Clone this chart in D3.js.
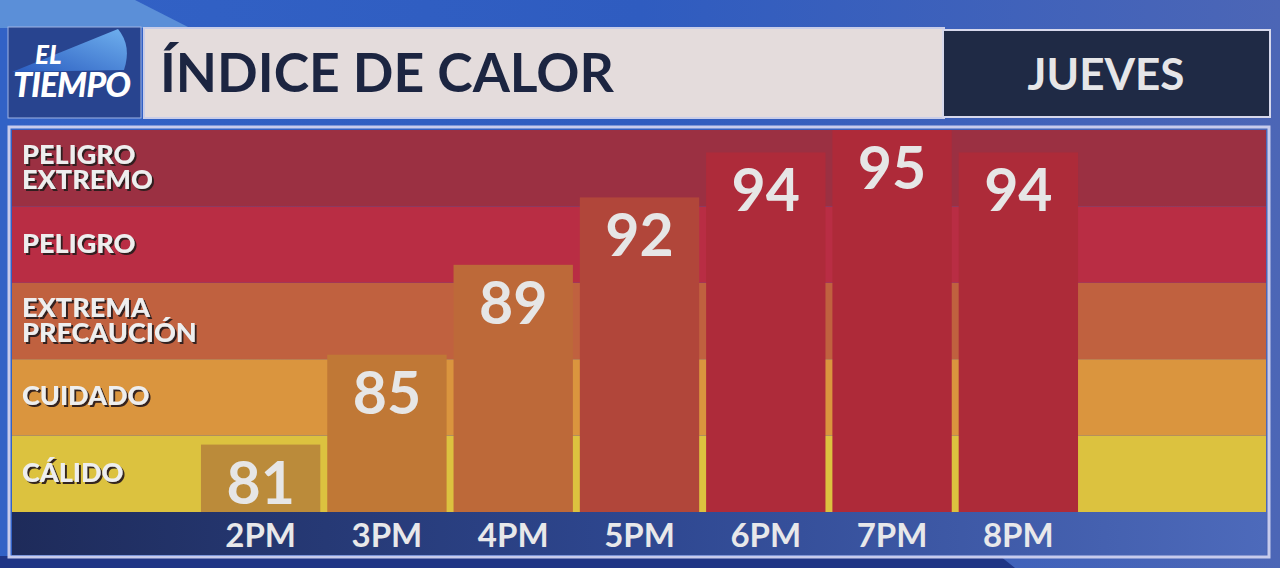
<!DOCTYPE html>
<html>
<head>
<meta charset="utf-8">
<script src="https://cdn.jsdelivr.net/npm/d3@7"></script>
<style>
 html, body { margin: 0; padding: 0; background: #3a64c4; }
 svg { display: block; }
</style>
</head>
<body>
<div id="chart"></div>
<script>
const hours = ["2PM", "3PM", "4PM", "5PM", "6PM", "7PM", "8PM"];
const heatIndex = [81, 85, 89, 92, 94, 95, 94];
const barColors = ["#bb8b3a", "#c07836", "#bd6939", "#b1463a", "#ae2b3a", "#ae2a39", "#ad2b39"];
const categories = ["CÁLIDO", "CUIDADO", "EXTREMA PRECAUCIÓN", "PELIGRO", "PELIGRO EXTREMO"];
const bandColors = ["#dcc23f", "#da953e", "#c0613f", "#b92d44", "#9b3042"];
const yDomain = [78, 95];
const title = "ÍNDICE DE CALOR";
const day = "JUEVES";

const drawChart = (element) => {
 const W = 1280, H = 568;
 const plot = { left: 12, right: 1266, top: 130, bottom: 512 };

 d3.select(element).select("svg").remove();
 const svg = d3.select(element).append("svg")
  .attr("width", W).attr("height", H)
  .style("font-family", "Lato, 'Open Sans', sans-serif");

 const defs = svg.append("defs");
 const bg = defs.append("linearGradient").attr("id", "bg")
  .attr("x1", 0).attr("y1", 0).attr("x2", 1).attr("y2", 0);
 bg.append("stop").attr("offset", 0).attr("stop-color", "#3262c6");
 bg.append("stop").attr("offset", 0.5).attr("stop-color", "#2f5cc0");
 bg.append("stop").attr("offset", 1).attr("stop-color", "#4c66b6");

 const axisGrad = defs.append("linearGradient").attr("id", "axisGrad")
  .attr("x1", 0).attr("y1", 0).attr("x2", 1).attr("y2", 0);
 axisGrad.append("stop").attr("offset", 0).attr("stop-color", "#1e2b5a");
 axisGrad.append("stop").attr("offset", 0.5).attr("stop-color", "#2e4790");
 axisGrad.append("stop").attr("offset", 1).attr("stop-color", "#4d6abb");

 const logoGrad = defs.append("linearGradient").attr("id", "logoGrad")
  .attr("x1", 0).attr("y1", 1).attr("x2", 1).attr("y2", 0);
 logoGrad.append("stop").attr("offset", 0).attr("stop-color", "#2a5cc0");
 logoGrad.append("stop").attr("offset", 1).attr("stop-color", "#6fb0ee");

 const shadow = defs.append("filter").attr("id", "shadow")
  .attr("x", "-10%").attr("y", "-20%").attr("width", "130%").attr("height", "150%");
 shadow.append("feDropShadow").attr("dx", 2).attr("dy", 2).attr("stdDeviation", 0.6)
  .attr("flood-color", "#2a1c1c").attr("flood-opacity", 0.95);

 // background
 svg.append("rect").attr("width", W).attr("height", H).attr("fill", "url(#bg)");
 svg.append("path").attr("d", "M0,0 L135,0 L190,28 L0,28 Z").attr("fill", "#5b8fd8");
 svg.append("path").attr("d", "M0,556 L1000,556 L1015,568 L0,568 Z").attr("fill", "#1f3585");

 // logo
 svg.append("rect").attr("x", 8).attr("y", 27).attr("width", 133).attr("height", 91)
  .attr("fill", "#28448f").attr("stroke", "#9fb4e4").attr("stroke-width", 1);
 svg.append("path").attr("d", "M12,72 L118,29 Q132,46 124,70 Z").attr("fill", "url(#logoGrad)");
 svg.append("text").attr("x", 35).attr("y", 64).attr("fill", "#ffffff")
  .attr("font-size", 26).attr("font-weight", 900).attr("font-style", "italic").text("EL");
 svg.append("text").attr("x", 13).attr("y", 97).attr("fill", "#ffffff")
  .attr("font-size", 34).attr("font-weight", 900).attr("font-style", "italic")
  .attr("letter-spacing", -1).text("TIEMPO");

 // title boxes
 svg.append("rect").attr("x", 144).attr("y", 28).attr("width", 800).attr("height", 90)
  .attr("fill", "#e4dcdc").attr("stroke", "#c9cde8").attr("stroke-width", 2);
 svg.append("text").attr("x", 160).attr("y", 92).attr("fill", "#1c2541")
  .attr("font-size", 53.5).attr("font-weight", 700).text(title);
 svg.append("rect").attr("x", 943).attr("y", 30).attr("width", 327).attr("height", 87)
  .attr("fill", "#1f2a45").attr("stroke", "#d6d8ec").attr("stroke-width", 2);
 svg.append("text").attr("x", 1106).attr("y", 90).attr("text-anchor", "middle")
  .attr("fill", "#e6e6e8").attr("font-size", 44).attr("font-weight", 700).text(day);

 // panel frame
 svg.append("rect").attr("x", 9).attr("y", 127).attr("width", 1260).attr("height", 430)
  .attr("fill", "none").attr("stroke", "#c7cbec").attr("stroke-width", 3);

 // scales
 const bandY = d3.scaleBand().domain(categories).range([plot.bottom, plot.top]);
 const y = d3.scaleLinear().domain(yDomain).range([plot.bottom, plot.top]);
 const x = d3.scaleBand().domain(hours).range([197.5, 1081.5])
  .paddingInner(0.055).paddingOuter(0.0275);

 // background bands
 svg.append("g").selectAll("rect").data(categories).join("rect")
  .attr("x", plot.left).attr("width", plot.right - plot.left)
  .attr("y", (d) => bandY(d)).attr("height", bandY.bandwidth())
  .attr("fill", (d, i) => bandColors[i]);

 // axis strip
 svg.append("rect").attr("x", plot.left).attr("y", plot.bottom)
  .attr("width", plot.right - plot.left).attr("height", 43).attr("fill", "url(#axisGrad)");

 // band labels
 svg.append("g").selectAll("text").data(categories).join("text")
  .attr("transform", (d) => `translate(22, ${bandY(d) + bandY.bandwidth() / 2})`)
  .attr("fill", "#eeeeee").attr("font-size", 27).attr("font-weight", 900)
  .attr("filter", "url(#shadow)")
  .each(function (d) {
   const lines = d.split(" ");
   lines.forEach((line, j) => {
    d3.select(this).append("tspan").attr("x", 0)
     .attr("y", 8 + (j - (lines.length - 1) / 2) * 25).text(line);
   });
  });

 // bars
 const bars = svg.append("g").selectAll("g").data(heatIndex).join("g");
 bars.append("rect")
  .attr("x", (d, i) => x(hours[i])).attr("width", x.bandwidth())
  .attr("y", (d) => y(d)).attr("height", (d) => plot.bottom - y(d))
  .attr("fill", (d, i) => barColors[i]);
 bars.append("text")
  .attr("x", (d, i) => x(hours[i]) + x.bandwidth() / 2)
  .attr("y", (d) => y(d) + 59)
  .attr("text-anchor", "middle").attr("fill", "#e6e6e6")
  .attr("font-size", 59).attr("font-weight", 700)
  .text((d) => d);

 // x axis labels
 const xAxis = d3.axisBottom(x).tickSize(0).tickPadding(0);
 const gx = svg.append("g").attr("transform", `translate(0, ${plot.bottom})`).call(xAxis);
 gx.select(".domain").remove();
 gx.selectAll("text").attr("dy", null).attr("y", 35)
  .attr("fill", "#e8e8ea").attr("font-size", 33).attr("font-weight", 700)
  .style("font-family", "Lato, sans-serif");
};

drawChart(document.getElementById("chart"));
</script>
</body>
</html>
